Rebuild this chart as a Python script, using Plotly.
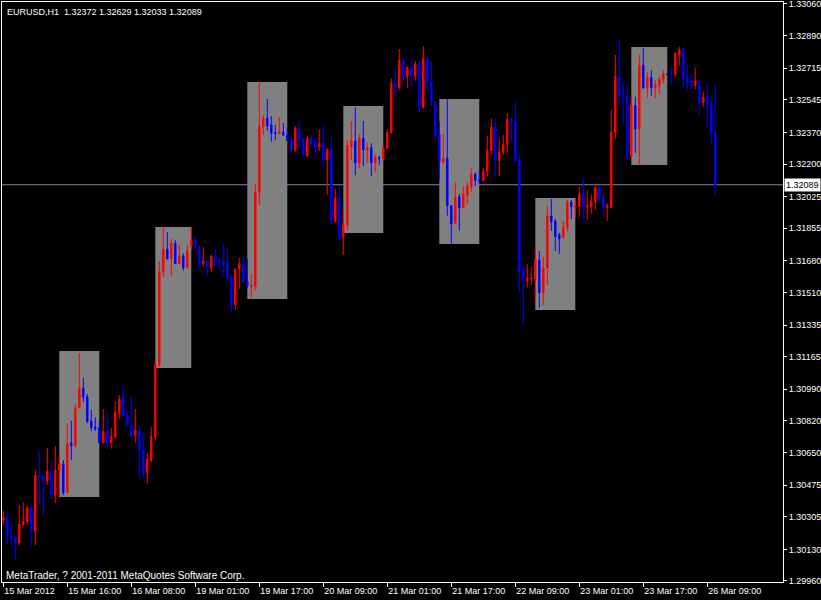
import plotly.graph_objects as go

# ---------------- data (EURUSD H1) ----------------
opens = [1.30288,1.30299,1.30202,1.30196,1.30166,1.30261,1.30279,1.30352,1.30230,1.30528,
1.30524,1.30499,1.30549,1.30421,1.30553,1.30589,1.30435,1.30702,1.30687,1.30891,
1.30995,1.30949,1.30820,1.30787,1.30782,1.30703,1.30766,1.30703,1.30735,1.30861,
1.30943,1.30850,1.30796,1.30743,1.30766,1.30664,1.30539,1.30606,1.30732,1.31121,
1.31622,1.31742,1.31690,1.31774,1.31665,1.31706,1.31643,1.31762,1.31792,1.31753,
1.31667,1.31679,1.31643,1.31706,1.31681,1.31676,1.31667,1.31592,1.31443,1.31635,
1.31663,1.31568,1.31541,1.31541,1.32048,1.32401,1.32446,1.32410,1.32369,1.32363,
1.32372,1.32356,1.32329,1.32276,1.32387,1.32335,1.32243,1.32340,1.32320,1.32292,
1.32312,1.32222,1.32281,1.31894,1.32016,1.31807,1.31871,1.32293,1.32324,1.32204,
1.32338,1.32276,1.32288,1.32207,1.32234,1.32229,1.32283,1.32369,1.32634,1.32610,
1.32759,1.32669,1.32720,1.32673,1.32736,1.32503,1.32768,1.32643,1.32535,1.32360,
1.32213,1.32231,1.31976,1.31885,1.32025,1.31966,1.32034,1.32078,1.32145,1.32114,
1.32111,1.32159,1.32272,1.32398,1.32218,1.32263,1.32306,1.32441,1.32431,1.32222,
1.31631,1.31573,1.31581,1.31584,1.31685,1.31509,1.31643,1.31921,1.31894,1.31819,
1.31810,1.31860,1.31996,1.31966,1.31971,1.32039,1.31968,1.31971,1.31998,1.32073,
1.32018,1.31966,1.31966,1.32369,1.32673,1.32571,1.32566,1.32240,1.32514,1.32388,
1.32731,1.32610,1.32666,1.32610,1.32620,1.32655,1.32685,1.32688,1.32680,1.32786,
1.32817,1.32666,1.32646,1.32621,1.32646,1.32530,1.32559,1.32523,1.32372]

highs = [1.30338,1.30331,1.30277,1.30202,1.30368,1.30383,1.30363,1.30367,1.30560,1.30664,
1.30524,1.30675,1.30599,1.30685,1.30642,1.30610,1.30807,1.30820,1.30909,1.31185,
1.31051,1.30965,1.30879,1.30840,1.30814,1.30884,1.30861,1.30782,1.30927,1.30958,
1.30997,1.30879,1.30949,1.30884,1.30796,1.30759,1.30648,1.30787,1.31137,1.31679,
1.31857,1.31835,1.31798,1.31792,1.31765,1.31721,1.31765,1.31864,1.31814,1.31760,
1.31755,1.31688,1.31712,1.31744,1.31694,1.31776,1.31744,1.31604,1.31640,1.31697,
1.31697,1.31690,1.31609,1.32093,1.32637,1.32464,1.32550,1.32458,1.32410,1.32453,
1.32421,1.32398,1.32356,1.32405,1.32428,1.32335,1.32351,1.32362,1.32340,1.32388,
1.32406,1.32281,1.32352,1.32066,1.32082,1.31959,1.32329,1.32431,1.32505,1.32360,
1.32431,1.32312,1.32312,1.32254,1.32243,1.32290,1.32387,1.32661,1.32718,1.32818,
1.32762,1.32722,1.32754,1.32754,1.32754,1.32834,1.32770,1.32754,1.32537,1.32431,
1.32360,1.32550,1.31978,1.32102,1.32039,1.32082,1.32102,1.32177,1.32156,1.32168,
1.32181,1.32351,1.32446,1.32442,1.32335,1.32356,1.32473,1.32446,1.32535,1.32254,
1.31658,1.31663,1.31645,1.31760,1.31733,1.31699,1.31975,1.32012,1.31905,1.31831,
1.31894,1.32007,1.32007,1.32014,1.32077,1.32120,1.32061,1.32035,1.32097,1.32084,
1.32039,1.31989,1.32491,1.32786,1.32867,1.32637,1.32625,1.32571,1.32562,1.32788,
1.32824,1.32696,1.32705,1.32652,1.32669,1.32705,1.32689,1.32722,1.32801,1.32831,
1.32831,1.32732,1.32684,1.32715,1.32648,1.32589,1.32634,1.32566,1.32629]

lows = [1.30266,1.30159,1.30144,1.30073,1.30150,1.30257,1.30261,1.30144,1.30153,1.30368,
1.30306,1.30477,1.30399,1.30378,1.30406,1.30421,1.30431,1.30610,1.30676,1.30887,
1.30922,1.30807,1.30766,1.30766,1.30700,1.30700,1.30671,1.30671,1.30725,1.30832,
1.30843,1.30793,1.30725,1.30700,1.30515,1.30520,1.30483,1.30599,1.30718,1.31110,
1.31592,1.31690,1.31600,1.31665,1.31663,1.31627,1.31640,1.31738,1.31742,1.31635,
1.31652,1.31604,1.31622,1.31652,1.31631,1.31590,1.31572,1.31407,1.31416,1.31529,
1.31560,1.31533,1.31481,1.31520,1.31980,1.32356,1.32378,1.32320,1.32329,1.32360,
1.32351,1.32324,1.32261,1.32266,1.32281,1.32240,1.32240,1.32297,1.32236,1.32270,
1.32186,1.32034,1.31878,1.31885,1.31787,1.31712,1.31842,1.32222,1.32141,1.32177,
1.32190,1.32207,1.32136,1.32159,1.32195,1.32222,1.32279,1.32365,1.32557,1.32603,
1.32652,1.32610,1.32616,1.32648,1.32476,1.32500,1.32580,1.32512,1.32335,1.32114,
1.32200,1.31923,1.31771,1.31878,1.31842,1.31962,1.31986,1.32052,1.32084,1.32093,
1.32105,1.32132,1.32249,1.32132,1.32138,1.32249,1.32258,1.32324,1.32215,1.31509,
1.31335,1.31536,1.31550,1.31461,1.31428,1.31443,1.31550,1.31841,1.31733,1.31717,
1.31798,1.31837,1.31905,1.31914,1.31917,1.31900,1.31900,1.31932,1.31953,1.32003,
1.31926,1.31894,1.31962,1.32333,1.32514,1.32419,1.32218,1.32236,1.32261,1.32200,
1.32603,1.32557,1.32567,1.32553,1.32580,1.32634,1.32679,1.32634,1.32666,1.32729,
1.32616,1.32594,1.32602,1.32602,1.32464,1.32508,1.32401,1.32308,1.32033]

closes = [1.30300,1.30198,1.30191,1.30164,1.30266,1.30281,1.30352,1.30230,1.30528,1.30515,
1.30499,1.30549,1.30421,1.30556,1.30589,1.30435,1.30696,1.30687,1.30890,1.30995,
1.30947,1.30816,1.30784,1.30777,1.30703,1.30764,1.30703,1.30739,1.30868,1.30938,
1.30848,1.30798,1.30741,1.30771,1.30660,1.30539,1.30616,1.30735,1.31121,1.31622,
1.31742,1.31690,1.31774,1.31665,1.31706,1.31643,1.31733,1.31792,1.31753,1.31667,
1.31679,1.31643,1.31706,1.31676,1.31672,1.31658,1.31592,1.31443,1.31635,1.31663,
1.31568,1.31547,1.31550,1.32048,1.32405,1.32446,1.32405,1.32365,1.32363,1.32374,
1.32356,1.32326,1.32276,1.32394,1.32329,1.32245,1.32338,1.32312,1.32290,1.32312,
1.32222,1.32281,1.31900,1.32019,1.31807,1.31873,1.32301,1.32324,1.32207,1.32338,
1.32276,1.32288,1.32207,1.32236,1.32229,1.32288,1.32371,1.32634,1.32610,1.32759,
1.32669,1.32720,1.32673,1.32736,1.32503,1.32768,1.32643,1.32535,1.32351,1.32213,
1.32231,1.31976,1.31878,1.32021,1.31966,1.32039,1.32082,1.32145,1.32111,1.32109,
1.32163,1.32276,1.32398,1.32218,1.32263,1.32306,1.32441,1.32428,1.32218,1.31622,
1.31573,1.31588,1.31588,1.31688,1.31509,1.31640,1.31921,1.31890,1.31810,1.31798,
1.31860,1.31996,1.31971,1.31975,1.32039,1.31968,1.31976,1.32002,1.32073,1.32011,
1.31966,1.31976,1.32372,1.32673,1.32567,1.32562,1.32240,1.32516,1.32388,1.32731,
1.32610,1.32666,1.32610,1.32625,1.32655,1.32684,1.32683,1.32680,1.32795,1.32813,
1.32657,1.32637,1.32621,1.32646,1.32530,1.32559,1.32517,1.32365,1.32089]

# time axis labels (every 16 bars)
time_tick_bars = [0, 16, 32, 48, 64, 80, 96, 112, 128, 144, 160, 176]
time_tick_labels = ["15 Mar 2012", "15 Mar 16:00", "16 Mar 08:00", "19 Mar 01:00",
                    "19 Mar 17:00", "20 Mar 09:00", "21 Mar 01:00", "21 Mar 17:00",
                    "22 Mar 09:00", "23 Mar 01:00", "23 Mar 17:00", "26 Mar 09:00"]

# price axis labels
price_ticks = [1.33060, 1.32890, 1.32715, 1.32545, 1.32370, 1.32200, 1.32025, 1.31855,
               1.31680, 1.31510, 1.31335, 1.31165, 1.30990, 1.30820, 1.30650, 1.30475,
               1.30305, 1.30130, 1.29960]

# session range boxes (bar index start/end, high/low)
box_start = [14, 38, 61, 85, 109, 133, 157]
box_end = [24, 47, 71, 95, 119, 143, 166]
box_high = [1.31196, 1.31862, 1.32641, 1.32512, 1.32550, 1.32018, 1.32829]
box_low = [1.30411, 1.31104, 1.31475, 1.31830, 1.31771, 1.31416, 1.32195]

symbol_title = "EURUSD,H1"
copyright_text = "MetaTrader, ? 2001-2011 MetaQuotes Software Corp."

# ---------------- figure ----------------
bars = list(range(len(opens)))
FONT = "Liberation Sans"

fig = go.Figure()

for s, e, hi, lo in zip(box_start, box_end, box_high, box_low):
    fig.add_shape(type="rect", x0=s, x1=e, y0=lo, y1=hi, xref="x", yref="y",
                  fillcolor="#808080", line=dict(width=0), layer="below")

last_close = closes[-1]
fig.add_shape(type="line", xref="paper", x0=0, x1=1, yref="y", y0=last_close, y1=last_close,
              line=dict(color="#778899", width=1), layer="below")

fig.add_trace(go.Candlestick(
    x=bars, open=opens, high=highs, low=lows, close=closes,
    increasing=dict(line=dict(color="#FF0000", width=1), fillcolor="#FF0000"),
    decreasing=dict(line=dict(color="#0000FF", width=1), fillcolor="#0000FF"),
    whiskerwidth=0, hoverinfo="skip", showlegend=False,
))

header = f"{symbol_title}  {opens[-1]:.5f} {highs[-1]:.5f} {lows[-1]:.5f} {closes[-1]:.5f}"
fig.add_annotation(text=header, xref="paper", yref="paper", x=0.004, y=0.983,
                   xanchor="left", yanchor="middle", showarrow=False,
                   font=dict(family=FONT, size=9, color="white"))
fig.add_annotation(text=copyright_text, xref="paper", yref="paper", x=0.003, y=0.012,
                   xanchor="left", yanchor="middle", showarrow=False,
                   font=dict(family=FONT, size=10, color="white"))
fig.add_annotation(text=f"{last_close:.5f}", xref="paper", yref="y", x=1, y=last_close,
                   xanchor="left", yanchor="middle", xshift=1, showarrow=False,
                   bgcolor="white", borderpad=1,
                   font=dict(family=FONT, size=9, color="black"))

fig.update_layout(
    width=821, height=600,
    margin=dict(l=2, r=38, t=2, b=18, autoexpand=False),
    paper_bgcolor="black", plot_bgcolor="black",
    font=dict(family=FONT, size=9, color="white"),
    showlegend=False, boxgap=0.5,
    xaxis=dict(range=[-0.325, 194.925], tickmode="array", tickvals=time_tick_bars,
               ticktext=time_tick_labels, ticks="outside", ticklen=4, tickcolor="white",
               ticklabelposition="outside right", tickangle=0,
               ticklabeloverflow="allow",
               showline=True, linecolor="white", linewidth=1, mirror=True,
               showgrid=False, zeroline=False, rangeslider=dict(visible=False),
               tickfont=dict(family=FONT, size=9, color="white")),
    yaxis=dict(range=[1.299546, 1.330707], side="right", tickmode="array",
               tickvals=price_ticks, ticktext=[f"{v:.5f}" for v in price_ticks],
               ticks="outside", ticklen=3, tickcolor="white",
               ticklabeloverflow="allow",
               showline=True, linecolor="white", linewidth=1, mirror=True,
               showgrid=False, zeroline=False,
               tickfont=dict(family=FONT, size=9, color="white")),
)

fig.write_html("out.html", config={"displayModeBar": False},
               post_script="document.body.style.margin='0';document.body.style.padding='0';"
                           "document.body.style.background='black';")
